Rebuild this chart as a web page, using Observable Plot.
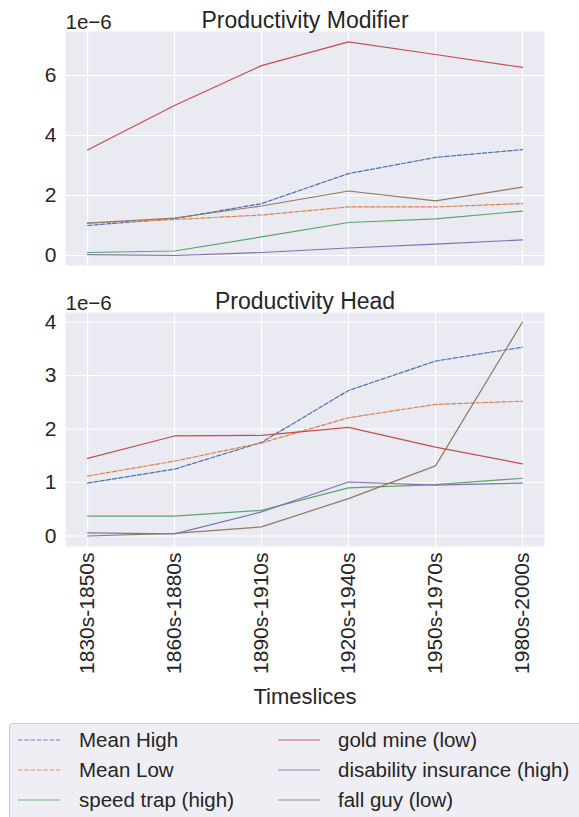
<!DOCTYPE html>
<html>
<head>
<meta charset="utf-8">
<script src="https://cdn.jsdelivr.net/npm/d3@7"></script>
<script src="https://cdn.jsdelivr.net/npm/@observablehq/plot@0.6"></script>
<style>
  html, body { margin: 0; padding: 0; background: #ffffff; }
  #wrap { position: relative; width: 579px; height: 817px; overflow: hidden;
          font-family: "Liberation Sans", Arial, sans-serif; color: #262626; }
  #top, #bottom { position: absolute; left: 0; }
  #top { top: 0; }
  #bottom { top: 280px; }
  #legend { position: absolute; left: 9px; top: 723px; width: 600px; height: 120px;
            box-sizing: border-box; border: 1px solid #cccccc; border-radius: 4px;
            background: #eeeef4; }
  .item { position: absolute; font-size: 20.5px; line-height: 30px; height: 30px; white-space: nowrap; }
  .item svg { position: absolute; top: 0; }
  .item span { position: absolute; top: 0; }
</style>
</head>
<body>
<div id="wrap">
  <div id="top"></div>
  <div id="bottom"></div>
  <div id="legend"></div>
</div>
<script>
// ---- data (values in units of 1e-6) ----
const periods = ["1830s-1850s", "1860s-1880s", "1890s-1910s", "1920s-1940s", "1950s-1970s", "1980s-2000s"];
const seriesNames = ["Mean High", "Mean Low", "speed trap (high)", "gold mine (low)", "disability insurance (high)", "fall guy (low)"];
const seriesColors = ["#4C72B0", "#DD8452", "#55A868", "#C44E52", "#8172B3", "#937860"];
const seriesDashed = [true, true, false, false, false, false];

// Productivity Modifier
const modMeanHigh   = [1.00, 1.23, 1.73, 2.73, 3.27, 3.53];
const modMeanLow    = [1.08, 1.20, 1.35, 1.62, 1.62, 1.73];
const modSpeedTrap  = [0.10, 0.15, 0.62, 1.10, 1.22, 1.48];
const modGoldMine   = [3.52, 5.00, 6.33, 7.12, 6.70, 6.27];
const modDisability = [0.03, 0.00, 0.10, 0.25, 0.38, 0.52];
const modFallGuy    = [1.08, 1.25, 1.65, 2.15, 1.82, 2.28];

// Productivity Head
const headMeanHigh   = [0.99, 1.25, 1.75, 2.72, 3.27, 3.53];
const headMeanLow    = [1.12, 1.40, 1.74, 2.21, 2.46, 2.52];
const headSpeedTrap  = [0.37, 0.37, 0.48, 0.90, 0.96, 1.08];
const headGoldMine   = [1.45, 1.87, 1.88, 2.03, 1.66, 1.35];
const headDisability = [0.06, 0.04, 0.45, 1.01, 0.95, 0.99];
const headFallGuy    = [0.00, 0.05, 0.17, 0.70, 1.31, 4.00];

const modTicks = [0, 2, 4, 6];
const headTicks = [0, 1, 2, 3, 4];
const panelTitles = ["Productivity Modifier", "Productivity Head"];
const exponentLabel = "1e\u22126";
const xAxisLabel = "Timeslices";

const modSeries = [modMeanHigh, modMeanLow, modSpeedTrap, modGoldMine, modDisability, modFallGuy];
const headSeries = [headMeanHigh, headMeanLow, headSpeedTrap, headGoldMine, headDisability, headFallGuy];

function rows(seriesList) {
  return seriesList.map((vals, s) => vals.map((v, i) => ({period: periods[i], value: v, series: seriesNames[s]})));
}

const textColor = "#262626";
const bg = "#EAEAF2";

function panel({seriesList, ticks, domain, title, height, marginBottom, marginTop, showX}) {
  const data = rows(seriesList);
  const marks = [
    Plot.frame({fill: bg, stroke: "none"}),
    Plot.ruleY(ticks, {y: d => d, stroke: "white", strokeWidth: 1.2}),
    Plot.ruleX(periods, {x: d => d, stroke: "white", strokeWidth: 1.2}),
    ...data.map((d, s) => Plot.line(d, {
      x: "period", y: "value",
      stroke: seriesColors[s], strokeWidth: 1.2,
      strokeDasharray: seriesDashed[s] ? "4.4,1.9" : null
    })),
    Plot.text([title], {text: d => d, frameAnchor: "top", dy: -11, fontSize: 23, fill: textColor, lineAnchor: "middle"}),
    Plot.text([exponentLabel], {text: d => d, frameAnchor: "top-left", textAnchor: "start", dy: -9, fontSize: 20.5, fill: textColor, lineAnchor: "middle"})
  ];
  if (showX) {
    marks.push(Plot.text([xAxisLabel], {text: d => d, frameAnchor: "bottom", dy: 150, fontSize: 22, fill: textColor, lineAnchor: "middle"}));
  }
  return Plot.plot({
    width: 579,
    height,
    marginLeft: 65,
    marginRight: 35,
    marginTop,
    marginBottom,
    style: {fontSize: "21px", fontFamily: "'Liberation Sans', Arial, sans-serif", color: textColor, background: "transparent", overflow: "visible"},
    x: {type: "point", domain: periods, padding: 0.24, label: null, tickSize: 0, tickPadding: 6, tickRotate: -90, axis: showX ? "bottom" : null},
    y: {domain, ticks, tickSize: 0, tickPadding: 9, label: null, tickFormat: d => String(d)},
    marks
  });
}

document.getElementById("top").appendChild(panel({
  seriesList: modSeries, ticks: modTicks, domain: [-0.333, 7.467],
  title: panelTitles[0], height: 280, marginTop: 31, marginBottom: 15, showX: false
}));

document.getElementById("bottom").appendChild(panel({
  seriesList: headSeries, ticks: headTicks, domain: [-0.196, 4.178],
  title: panelTitles[1], height: 430, marginTop: 32, marginBottom: 164, showX: true
}));

// legend (column-major, 3 rows x 2 columns)
const legend = document.getElementById("legend");
seriesNames.forEach((name, i) => {
  const col = Math.floor(i / 3), row = i % 3;
  const item = document.createElement("div");
  item.className = "item";
  item.style.left = (col === 0 ? 8 : 268) + "px";
  item.style.top = (row * 30 + 1) + "px";
  const ns = "http://www.w3.org/2000/svg";
  const svg = document.createElementNS(ns, "svg");
  svg.setAttribute("width", 44); svg.setAttribute("height", 30);
  svg.style.left = "0px";
  const ln = document.createElementNS(ns, "line");
  ln.setAttribute("x1", 0); ln.setAttribute("x2", 42);
  ln.setAttribute("y1", 15); ln.setAttribute("y2", 15);
  ln.setAttribute("stroke", seriesColors[i]); ln.setAttribute("stroke-width", 1.2);
  ln.setAttribute("stroke-opacity", 0.85);
  if (seriesDashed[i]) ln.setAttribute("stroke-dasharray", "4.4,1.9");
  svg.appendChild(ln);
  const sp = document.createElement("span");
  sp.textContent = name;
  sp.style.left = (col === 0 ? 61 : 60) + "px";
  item.appendChild(svg); item.appendChild(sp);
  legend.appendChild(item);
});
</script>
</body>
</html>
